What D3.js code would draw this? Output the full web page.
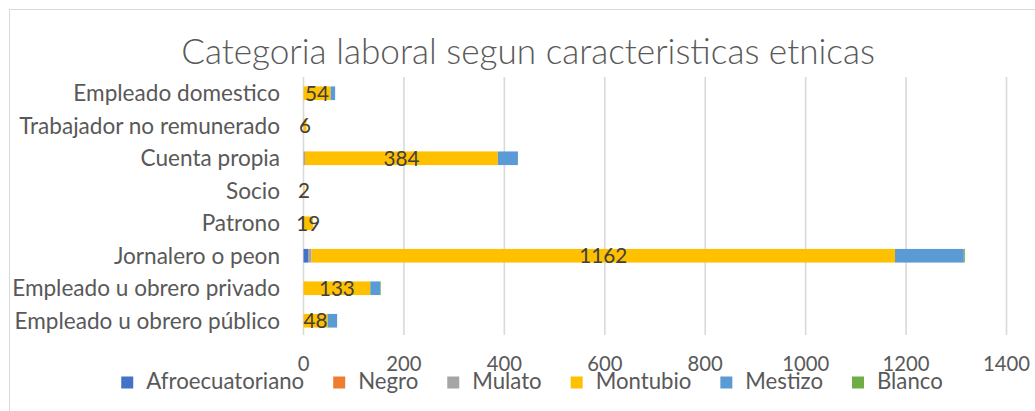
<!DOCTYPE html>
<html>
<head>
<meta charset="utf-8">
<script src="https://cdn.jsdelivr.net/npm/d3@7"></script>
<style>
  html, body { margin: 0; padding: 0; background: #fff; }
  svg { display: block; }
</style>
</head>
<body>
<svg id="chart" width="1035" height="411"></svg>
<script>
// Labour category by ethnic group (stacked horizontal bars)
const categories = [
  "Empleado domestico",
  "Trabajador no remunerado",
  "Cuenta propia",
  "Socio",
  "Patrono",
  "Jornalero o peon",
  "Empleado u obrero privado",
  "Empleado u obrero público"
];
const seriesNames = ["Afroecuatoriano", "Negro", "Mulato", "Montubio", "Mestizo", "Blanco"];
const afroecuatoriano = [0, 0, 0, 0, 0, 9, 0, 0];
const negro           = [0, 0, 0, 0, 0, 0, 0, 0];
const mulato          = [0, 0, 3, 0, 0, 7, 0, 0];
const montubio        = [54, 6, 384, 2, 19, 1162, 133, 48];
const mestizo         = [9, 0, 40, 0, 0, 137, 20, 19];
const blanco          = [0, 0, 0, 0, 0, 2, 1, 0];
const xTicks = [0, 200, 400, 600, 800, 1000, 1200, 1400];
const titleText = "Categoria laboral segun caracteristicas etnicas";

const seriesValues = [afroecuatoriano, negro, mulato, montubio, mestizo, blanco];
const colors = ["#4472C4", "#ED7D31", "#A5A5A5", "#FFC000", "#5B9BD5", "#70AD47"];
const FONT = "Lato, 'Open Sans', 'DejaVu Sans', sans-serif";

const svg = d3.select("#chart");

// font size helper: scale a sample string to a target pixel width
const probe = svg.append("text").attr("font-family", FONT).attr("font-size", 100);
function fitSize(sample, targetWidth, weight) {
  probe.attr("font-weight", weight || 400).text(sample);
  const w = probe.node().getComputedTextLength();
  return 100 * targetWidth / w;
}
const catSize = fitSize("Trabajador no remunerado", 261);
const titleSize = fitSize(titleText, 694, 300);
const tickSize = fitSize("1400", 47);
const legendSize = fitSize("Afroecuatoriano", 158);
const labelSize = fitSize("384", 36);
function textWidth(t, size) {
  probe.attr("font-weight", 400).attr("font-size", size).text(t);
  const w = probe.node().getComputedTextLength();
  probe.attr("font-size", 100);
  return w;
}

// chart frame
svg.append("rect")
  .attr("x", 9.5).attr("y", 9.5)
  .attr("width", 1040).attr("height", 420)
  .attr("fill", "#fff").attr("stroke", "#D9D9D9").attr("stroke-width", 1);

const plot = { left: 303.5, right: 1006.5, top: 77, bottom: 337 };

const x = d3.scaleLinear().domain([0, 1400]).range([plot.left, plot.right]);
const y = d3.scaleBand().domain(categories).range([plot.top, plot.bottom]).paddingInner(0.58).paddingOuter(0.29);

// vertical gridlines
svg.append("g").selectAll("line").data(xTicks).join("line")
  .attr("x1", d => x(d)).attr("x2", d => x(d))
  .attr("y1", plot.top).attr("y2", plot.bottom - 2)
  .attr("stroke", "#D9D9D9").attr("stroke-width", 1.6);

// stacked data
const rows = categories.map((c, i) => {
  const r = { category: c };
  seriesNames.forEach((s, j) => { r[s] = seriesValues[j][i]; });
  return r;
});
const stack = d3.stack().keys(seriesNames)(rows);

svg.append("g").selectAll("g").data(stack).join("g")
  .attr("fill", (d, i) => colors[i])
  .selectAll("rect").data(d => d).join("rect")
  .attr("x", d => x(d[0]))
  .attr("y", d => y(d.data.category))
  .attr("width", d => Math.max(0, x(d[1]) - x(d[0])))
  .attr("height", y.bandwidth());

// category labels
svg.append("g").selectAll("text").data(categories).join("text")
  .attr("x", 280)
  .attr("y", d => y(d) + y.bandwidth() / 2)
  .attr("dy", "0.35em")
  .attr("text-anchor", "end")
  .attr("font-family", FONT).attr("font-size", catSize)
  .attr("fill", "#595959")
  .text(d => d);

// value labels on the Montubio segments
const montubioLayer = stack[seriesNames.indexOf("Montubio")];
svg.append("g").selectAll("text").data(montubioLayer).join("text")
  .attr("x", d => (x(d[0]) + x(d[1])) / 2)
  .attr("y", d => y(d.data.category) + y.bandwidth() / 2)
  .attr("dy", "0.36em")
  .attr("text-anchor", "middle")
  .attr("font-family", FONT).attr("font-size", labelSize)
  .attr("fill", "#404040")
  .text(d => d.data.Montubio);

// x axis tick labels
svg.append("g").selectAll("text").data(xTicks).join("text")
  .attr("x", d => x(d))
  .attr("y", 371)
  .attr("text-anchor", "middle")
  .attr("font-family", FONT).attr("font-size", tickSize)
  .attr("fill", "#595959")
  .text(d => d);

// title
svg.append("text")
  .attr("x", 528).attr("y", 64)
  .attr("text-anchor", "middle")
  .attr("font-family", FONT).attr("font-weight", 300).attr("font-size", titleSize)
  .attr("fill", "#595959")
  .text(titleText);

// legend
const sw = 12, gapText = 13, gapItem = 29;
const widths = seriesNames.map(s => textWidth(s, legendSize));
const total = d3.sum(widths) + seriesNames.length * (sw + gapText) + (seriesNames.length - 1) * gapItem;
let lx = 532 - total / 2;
const legend = svg.append("g");
seriesNames.forEach((s, i) => {
  legend.append("rect")
    .attr("x", lx).attr("y", 376.5).attr("width", sw).attr("height", sw)
    .attr("fill", colors[i]);
  legend.append("text")
    .attr("x", lx + sw + gapText).attr("y", 389)
    .attr("font-family", FONT).attr("font-size", legendSize)
    .attr("fill", "#595959")
    .text(s);
  lx += sw + gapText + widths[i] + gapItem;
});

probe.remove();
</script>
</body>
</html>
